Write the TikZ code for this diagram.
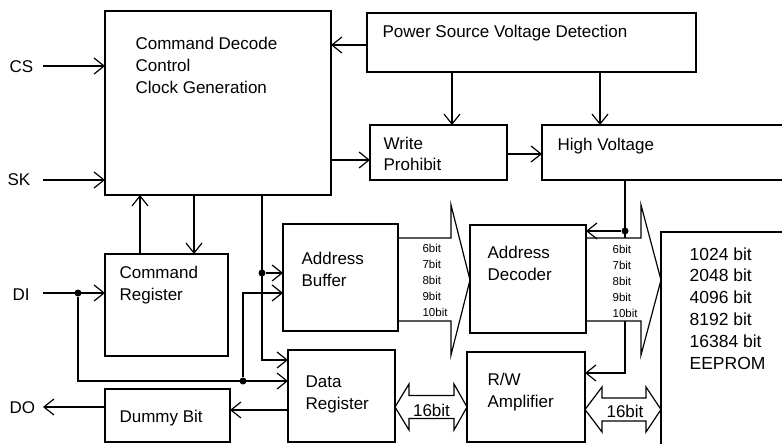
\documentclass[tikz,border=0pt]{standalone}
\usepackage{fontspec}
\setmainfont{Liberation Sans}
\usetikzlibrary{arrows.meta}
\begin{document}
\begin{tikzpicture}[x=1pt,y=-1pt,
  line width=1.2pt,
  box/.style={draw, rectangle, anchor=north west, inner sep=0pt, outer sep=0pt},
  lbl/.style={anchor=north west, inner sep=0pt, align=left, font=\fontsize{17}{22}\selectfont},
  small/.style={anchor=north west, inner sep=0pt, align=left, font=\fontsize{11.5}{16}\selectfont},
  arr/.style={-{Straight Barb[length=10pt,width=16pt]}},
  dot/.style={circle, fill, inner sep=0pt, minimum size=7pt},
  bustext/.style={inner sep=0pt, font=\fontsize{17}{22}\selectfont}
]
\useasboundingbox (0,0) rectangle (782,444);
\clip (0,0) rectangle (782,444);

% boxes
\node[box, minimum width=226pt, minimum height=184pt] (cmd) at (105,11) {};
\node[box, minimum width=329pt, minimum height=59pt] (psv) at (367,13) {};
\node[box, minimum width=137pt, minimum height=55pt] (wp) at (370,125) {};
\node[box, minimum width=260pt, minimum height=55pt] (hv) at (542,125) {};
\node[box, minimum width=123pt, minimum height=102pt] (creg) at (105,254) {};
\node[box, minimum width=115pt, minimum height=107pt] (abuf) at (283,224) {};
\node[box, minimum width=107pt, minimum height=92pt] (dreg) at (288,350) {};
\node[box, minimum width=125pt, minimum height=53pt] (dummy) at (105,389) {};
\node[box, minimum width=116pt, minimum height=108pt] (adec) at (470,225) {};
\node[box, minimum width=118pt, minimum height=90pt] (rw) at (467,352) {};
\node[box, minimum width=150pt, minimum height=230pt] (eep) at (661,232) {};

% labels
\node[lbl] (cmdtxt) at (135,36.8) {Command Decode\\Control\\Clock Generation};
\node[lbl] (psvtxt) at (382,24.8) {Power Source Voltage Detection};
\node[lbl, font=\fontsize{17}{21}\selectfont] (wptxt) at (383,136.8) {Write\\Prohibit};
\node[lbl] (hvtxt) at (557,137.8) {High Voltage};
\node[lbl] (cregtxt) at (119,265.8) {Command\\Register};
\node[lbl] (abuftxt) at (301,251.8) {Address\\Buffer};
\node[lbl] (dregtxt) at (305,374.8) {Data\\Register};
\node[lbl] (dummytxt) at (119,409.8) {Dummy Bit};
\node[lbl] (adectxt) at (487,245.8) {Address\\Decoder};
\node[lbl] (rwtxt) at (487,372.8) {R/W\\Amplifier};
\node[lbl, font=\fontsize{17.5}{21.8}\selectfont] (eeptxt) at (689,246.8) {1024 bit\\2048 bit\\4096 bit\\8192 bit\\16384 bit\\EEPROM};
\node[lbl] (cs) at (9,59.8) {CS};
\node[lbl] (sk) at (7,172.8) {SK};
\node[lbl] (di) at (12,287.8) {DI};
\node[lbl] (do) at (9,400.8) {DO};
\node[small] (bits1) at (422,243.8) {6bit\\7bit\\8bit\\9bit\\10bit};
\node[small] (bits2) at (612,244.8) {6bit\\7bit\\8bit\\9bit\\10bit};

% input / output connectors
\coordinate (csin) at (43,66);
\coordinate (skin) at (43,180);
\coordinate (diin) at (43,293);
\coordinate (doout) at (43,407);
\draw[arr] (csin) -- (csin -| cmd.west);
\draw[arr] (skin) -- (skin -| cmd.west);
\draw[arr] (diin) -- (diin -| creg.west);
\draw[arr] (dummy.west |- doout) -- (doout);

% control connectors
\draw[arr] (psv.west |- 0,45) -- (cmd.east |- 0,45);
\draw[arr] (psv.south -| 452,0) -- (wp.north -| 452,0);
\draw[arr] (psv.south -| 600,0) -- (hv.north -| 600,0);
\draw[arr] (cmd.east |- 0,160) -- (wp.west |- 0,160);
\draw[arr] (wp.east |- 0,154) -- (hv.west |- 0,154);
\draw[arr] (creg.north -| 140,0) -- (cmd.south -| 140,0);
\draw[arr] (cmd.south -| 194,0) -- (creg.north -| 194,0);
\draw[arr] (cmd.south -| 262,0) |- (dreg.west |- 0,360);
\node[dot] (j1) at (262,273) {};
\draw[arr] (j1) -- (j1 -| abuf.west);
\node[dot] (j2) at (78,293) {};
\draw[arr] (j2) |- (dreg.west |- 0,381);
\node[dot] (j3) at (243,381) {};
\draw[arr] (j3) |- (abuf.west |- 0,293);
\draw[arr] (dreg.west |- 0,410) -- (dummy.east |- 0,410);

% address buses
\draw (abuf.east |- 0,238) -- (451,238) -- (451,205) -- (adec.west |- 0,280) -- (451,355) -- (451,321) -- (abuf.east |- 0,321);
\draw (adec.east |- 0,238) -- (641,238) -- (641,205) -- (eep.west |- 0,280) -- (641,355) -- (641,321) -- (adec.east |- 0,321);

% high voltage feed
\draw (hv.south -| 625,0) -- (625,238);
\node[dot] (j4) at (625,231) {};
\draw[arr] (j4) -- (j4 -| adec.east);
\coordinate (rwsel) at (625,321);
\draw[arr] (rwsel) |- (rw.east |- 0,373);

% 16 bit data buses
\draw (dreg.east |- 0,407) -- (409,384) -- (409,395.5) -- (454,395.5) -- (454,384) -- (rw.west |- 0,407) -- (454,430) -- (454,418.5) -- (409,418.5) -- (409,430) -- cycle;
\node[bustext] (d16a) at (431.5,410) {16bit};
\draw (rw.east |- 0,409.5) -- (602,387) -- (602,398) -- (646,398) -- (646,387) -- (eep.west |- 0,409.5) -- (646,432) -- (646,421) -- (602,421) -- (602,432) -- cycle;
\node[bustext] (d16b) at (625,411.5) {16bit};
\end{tikzpicture}
\end{document}
